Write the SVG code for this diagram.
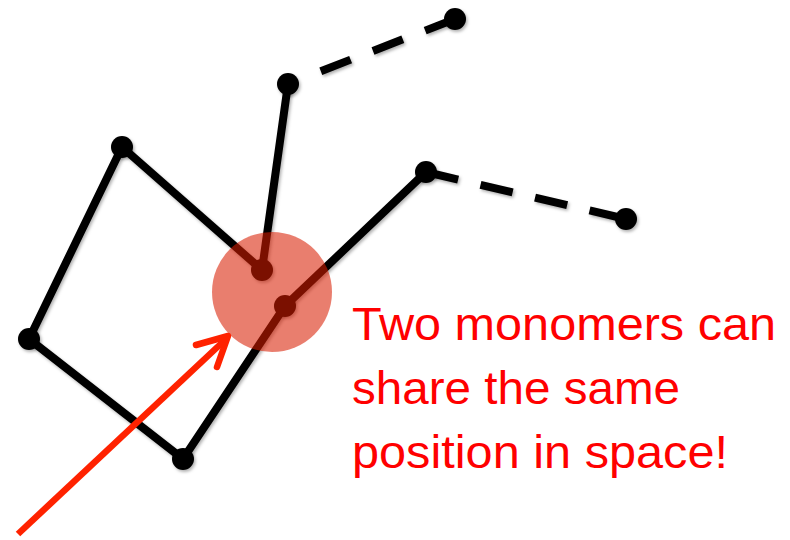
<svg xmlns="http://www.w3.org/2000/svg" width="790" height="540" viewBox="0 0 790 540">
<defs>
<filter id="sh" x="-20%" y="-20%" width="140%" height="140%">
<feDropShadow dx="1.5" dy="2" stdDeviation="1.5" flood-color="#000" flood-opacity="0.3"/>
</filter>
</defs>
<style>
.bond{stroke:#000;stroke-width:8;fill:none;stroke-linecap:butt;stroke-linejoin:round}
.dash{stroke:#000;stroke-width:8;fill:none}
.mono{fill:#000}
.lbl{font-family:"Liberation Sans",Arial,sans-serif;font-size:46px;fill:#ff0000}
</style>
<rect width="790" height="540" fill="#fff"/>
<g id="connectors" filter="url(#sh)">
<polyline class="bond" points="288,84 262,270 122,147 29,339 183,459 285,306 426,172"/>
<line class="dash" x1="455" y1="19" x2="288" y2="84" stroke-dasharray="32 24 32 24 32 100"/>
<line class="dash" x1="426" y1="172" x2="626" y2="219" stroke-dasharray="33 23"/>
</g>
<g filter="url(#sh)">
<circle id="n1" class="mono" cx="455" cy="19" r="11"/>
<circle id="n2" class="mono" cx="288" cy="84" r="11"/>
<circle id="n3" class="mono" cx="262" cy="270" r="11"/>
<circle id="n4" class="mono" cx="122" cy="147" r="11"/>
<circle id="n5" class="mono" cx="29" cy="339" r="11"/>
<circle id="n6" class="mono" cx="183" cy="459" r="11"/>
<circle id="n7" class="mono" cx="285" cy="306" r="11"/>
<circle id="n8" class="mono" cx="426" cy="172" r="11"/>
<circle id="n9" class="mono" cx="626" cy="219" r="11"/>
</g>
<circle id="overlap" cx="272" cy="292" r="60" fill="#d81c00" fill-opacity="0.57"/>
<g id="arrow" stroke="#ff2200" stroke-width="6.5" fill="none" stroke-linecap="butt" stroke-linejoin="round">
<line x1="18" y1="534" x2="226" y2="339"/>
<polyline points="196,345 228,336 217,367" stroke-linecap="round"/>
</g>
<g id="label">
<text class="lbl" x="352" y="340" textLength="424" lengthAdjust="spacingAndGlyphs">Two monomers can</text>
<text class="lbl" x="352" y="404" textLength="328" lengthAdjust="spacingAndGlyphs">share the same</text>
<text class="lbl" x="352" y="468" textLength="376" lengthAdjust="spacingAndGlyphs">position in space!</text>
</g>
</svg>
